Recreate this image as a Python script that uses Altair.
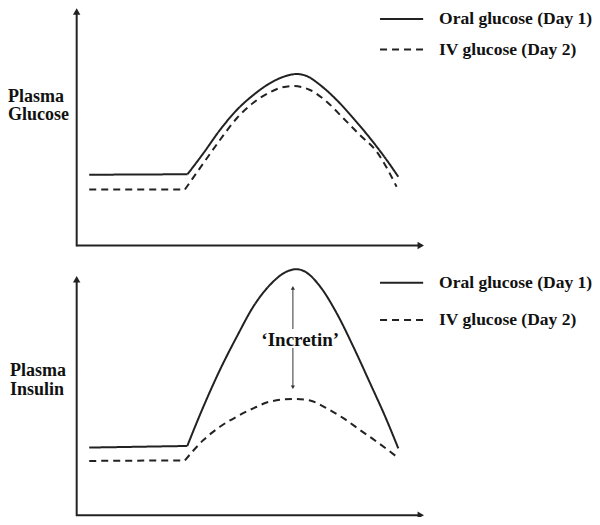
import altair as alt
import pandas as pd

# ---------------- data (schematic, arbitrary units) ----------------
series = ["Oral glucose (Day 1)", "IV glucose (Day 2)"]

# Plasma glucose panel
glu_oral_t = [5.3, 46.8, 53.5, 60.5, 67.6, 74.6, 81.6, 88.7, 92.9, 97.1, 102.8, 109.8, 116.8, 123.9, 130.9, 135.8]
glu_oral_v = [28.3, 28.5, 36.9, 46.2, 54.2, 60.2, 64.9, 67.9, 68.6, 67.8, 64.2, 58.2, 50.9, 42.9, 34.2, 27.5]
glu_iv_t = [5.3, 45.7, 53.5, 60.5, 67.6, 74.6, 81.6, 86.5, 91.5, 98.5, 105.6, 112.6, 119.6, 126.7, 135.1]
glu_iv_v = [22.4, 22.4, 32.9, 42.2, 50.9, 57.1, 61.3, 63.2, 63.8, 62.2, 57.5, 50.9, 44.2, 37.5, 23.5]

# Plasma insulin panel
ins_oral_t = [5.3, 46.7, 53.5, 60.5, 67.6, 74.6, 81.6, 88.7, 92.9, 97.1, 102.8, 109.8, 116.8, 123.9, 130.9, 135.8]
ins_oral_v = [26.0, 26.6, 41.3, 55.1, 67.5, 78.8, 86.9, 91.9, 92.8, 91.5, 86.3, 76.3, 63.8, 50.1, 36.3, 25.7]
ins_iv_t = [5.3, 45.7, 53.5, 60.5, 67.6, 74.6, 81.6, 91.5, 98.5, 105.6, 112.6, 119.6, 126.7, 135.1]
ins_iv_v = [21.0, 21.2, 28.8, 33.8, 37.6, 40.7, 43.2, 44.2, 43.6, 40.7, 37.0, 32.6, 28.2, 22.6]

top_label = ["Plasma", "Glucose"]
bot_label = ["Plasma", "Insulin"]
incretin_label = "\u2018Incretin\u2019"

# ---------------- layout constants ----------------
W = 584
H = 509
X_DOMAIN = [-29, 217.6]
# each panel has its own y scale spanning the full height; the domains put
# the glucose panel in the upper half and the insulin panel in the lower half
Y_TOP = [-108.6, 95]
Y_BOT = [0, 190.6]
INK = "#222222"
FONT = "Liberation Serif"


def X(field="t"):
    return alt.X(f"{field}:Q", scale=alt.Scale(domain=X_DOMAIN, nice=False, zero=False), axis=None)


def Y(dom, field="v"):
    return alt.Y(f"{field}:Q", scale=alt.Scale(domain=dom, nice=False, zero=False), axis=None)


dash = alt.StrokeDash("series:N", scale=alt.Scale(domain=series, range=[[1, 0], [7, 5]]), legend=None)


def curves(oral_t, oral_v, iv_t, iv_v):
    # each curve = flat baseline segment + smooth response segment (sharing the corner point)
    rows = []
    for s, ts, vs in ((series[0], oral_t, oral_v), (series[1], iv_t, iv_v)):
        for i, (a, b) in enumerate(zip(ts, vs)):
            if i <= 1:
                rows.append({"series": s, "part": s + "|base", "t": a, "v": b, "o": i})
            if i >= 1:
                rows.append({"series": s, "part": s + "|rise", "t": a, "v": b, "o": i})
    return pd.DataFrame(rows)


def panel(df, dom, base_v, axis_top, head_v, labels, label_x, label_v, label_step, leg_v):
    lines = alt.Chart(df).mark_line(color=INK, strokeWidth=2, interpolate="monotone").encode(
        x=X(), y=Y(dom), detail="part:N", order="o:Q", strokeDash=dash
    )
    axes_df = pd.DataFrame([
        {"t": 0, "v": base_v - 0.3, "t2": 0, "v2": axis_top},
        {"t": -0.3, "v": base_v, "t2": 145.5, "v2": base_v},
    ])
    axes = alt.Chart(axes_df).mark_rule(color=INK, strokeWidth=2).encode(
        x=X(), y=Y(dom), x2="t2:Q", y2="v2:Q"
    )
    heads_df = pd.DataFrame([
        {"t": 0, "v": head_v, "shape": "triangle-up"},
        {"t": 145.3, "v": base_v, "shape": "triangle-right"},
    ])
    heads = alt.Chart(heads_df).mark_point(filled=True, color=INK, size=55, opacity=1).encode(
        x=X(), y=Y(dom), shape=alt.Shape("shape:N", scale=None)
    )
    lab_df = pd.DataFrame([{"t": label_x, "v": label_v - i * label_step, "text": s} for i, s in enumerate(labels)])
    labs = alt.Chart(lab_df).mark_text(
        align="left", baseline="middle", font=FONT, fontSize=18, fontWeight="bold", color="#111111"
    ).encode(x=X(), y=Y(dom), text="text:N")
    leg_df = pd.DataFrame([
        {"series": s, "t": 128.1, "t2": 146.3, "v": leg_v[i], "tt": 153.0} for i, s in enumerate(series)
    ])
    leg_lines = alt.Chart(leg_df).mark_rule(color=INK, strokeWidth=2).encode(
        x=X(), x2="t2:Q", y=Y(dom), strokeDash=dash
    )
    leg_text = alt.Chart(leg_df).mark_text(
        align="left", baseline="middle", font=FONT, fontSize=17.5, fontWeight="bold", color="#111111"
    ).encode(x=X("tt"), y=Y(dom), text="series:N")
    return [lines, axes, heads, labs, leg_lines, leg_text]


top_layers = panel(curves(glu_oral_t, glu_oral_v, glu_iv_t, glu_iv_v), Y_TOP, 0, 93.0, 93.6,
                   top_label, -29, 59.6, 7.4, [90.6, 78.4])
bot_layers = panel(curves(ins_oral_t, ins_oral_v, ins_iv_t, ins_iv_v), Y_BOT, 0.7, 89.2, 89.0,
                   bot_label, -28.2, 54.7, 7.1, [87.7, 73.8])

# incretin arrow
arr_df = pd.DataFrame([
    {"t": 91.3, "v": 85.6, "v2": 70.4},
    {"t": 91.3, "v": 63.3, "v2": 49.0},
])
arr = alt.Chart(arr_df).mark_rule(color="#333333", strokeWidth=1).encode(x=X(), y=Y(Y_BOT), y2="v2:Q")
arr_heads_df = pd.DataFrame([
    {"t": 91.3, "v": 85.8, "shape": "triangle-up"},
    {"t": 91.3, "v": 48.6, "shape": "triangle-down"},
])
arr_heads = alt.Chart(arr_heads_df).mark_point(filled=True, color="#333333", size=18, opacity=1).encode(
    x=X(), y=Y(Y_BOT), shape=alt.Shape("shape:N", scale=None)
)
inc_df = pd.DataFrame([{"t": 94.4, "v": 66.3, "text": incretin_label}])
inc = alt.Chart(inc_df).mark_text(
    align="center", baseline="middle", font=FONT, fontSize=19, fontWeight="bold", color="#111111"
).encode(x=X(), y=Y(Y_BOT), text="text:N")

chart = (
    alt.layer(*(top_layers + bot_layers + [arr, arr_heads, inc]))
    .resolve_scale(y="independent")
    .properties(width=W, height=H, padding=0, autosize=alt.AutoSizeParams(type="none"))
    .configure_view(stroke=None)
)

chart.save("out.html", embed_options={"renderer": "svg", "actions": False})
